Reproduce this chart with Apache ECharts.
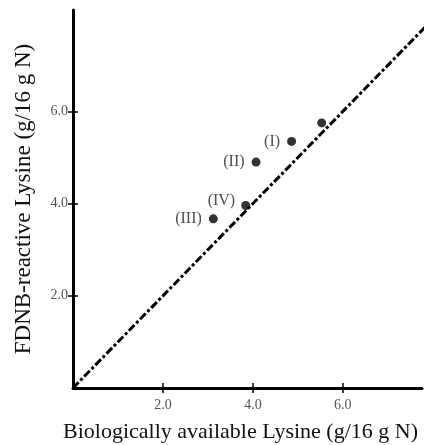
<!DOCTYPE html>
<html><head><meta charset="utf-8">
<script src="https://cdn.jsdelivr.net/npm/echarts@6/dist/echarts.min.js"></script>
<style>html,body{margin:0;padding:0;background:#fff}#c{width:428px;height:445px}</style>
</head><body><div id="c"></div>
<script>
const sampleNames = ['', '(I)', '(II)', '(IV)', '(III)'];
const bioLysine = [5.53, 4.86, 4.07, 3.84, 3.12];
const fdnbLysine = [5.75, 5.35, 4.90, 3.96, 3.67];
const lineX = [0, 7.95];
const lineY = [0, 7.95];
const tickValues = [2, 4, 6];
const serif = '"Liberation Serif", "DejaVu Serif", serif';

const chart = echarts.init(document.getElementById('c'));
const labelOff = [[0,0],[-2,0],[-2,0],[-1,-5],[-2,0]];
const pts = bioLysine.map((x, i) => ({
  value: [x, fdnbLysine[i]],
  label: {show: !!sampleNames[i], formatter: sampleNames[i], position: 'left', offset: labelOff[i]}
}));
const axisCommon = {
  type: 'value', min: 0, splitLine: {show: false},
  axisLine: {show: true, onZero: false, lineStyle: {color: '#000', width: 3}},
  axisTick: {show: true, length: 5, customValues: tickValues, lineStyle: {color: '#000', width: 1.5}},
  axisLabel: {customValues: tickValues, formatter: v => v.toFixed(1), color: '#555', fontFamily: serif, fontSize: 14}
};
chart.setOption({
  animation: false,
  grid: {left: 73, top: 10, right: 6, bottom: 57, containLabel: false, outerBoundsMode: 'none'},
  xAxis: [
    Object.assign({}, axisCommon, {max: 7.76, name: 'Biologically available Lysine (g/16 g N)', nameLocation: 'middle', nameGap: 33,
      nameTextStyle: {fontFamily: serif, fontSize: 22, color: '#111', padding: [0, 14, 0, 0]}, axisLabel: Object.assign({}, axisCommon.axisLabel, {margin: 10})}),
    {type: 'value', min: 0, max: 7.76, position: 'bottom', axisLine: {show: false}, axisLabel: {show: false}, splitLine: {show: false},
      axisTick: {show: true, inside: true, length: 5, customValues: tickValues, lineStyle: {color: '#000', width: 1.5}}}
  ],
  yAxis: [
    Object.assign({}, axisCommon, {max: 8.2, name: 'FDNB-reactive Lysine (g/16 g N)', nameLocation: 'middle', nameGap: 38,
      nameTextStyle: {fontFamily: serif, fontSize: 23, color: '#111'}, axisLabel: Object.assign({}, axisCommon.axisLabel, {margin: 5})}),
    {type: 'value', min: 0, max: 8.2, position: 'left', axisLine: {show: false}, axisLabel: {show: false}, splitLine: {show: false},
      axisTick: {show: true, inside: true, length: 5, customValues: tickValues, lineStyle: {color: '#000', width: 1.5}}}
  ],
  series: [
    {type: 'line', data: lineX.map((x, i) => [x, lineY[i]]), showSymbol: false, clip: false, silent: true,
      lineStyle: {color: '#000', width: 3, type: [8, 2.5, 3, 2.5]}},
    {type: 'scatter', data: pts, symbolSize: 9, itemStyle: {color: '#000'},
      label: {color: '#222', fontFamily: serif, fontSize: 16}}
  ]
});
</script></body></html>
